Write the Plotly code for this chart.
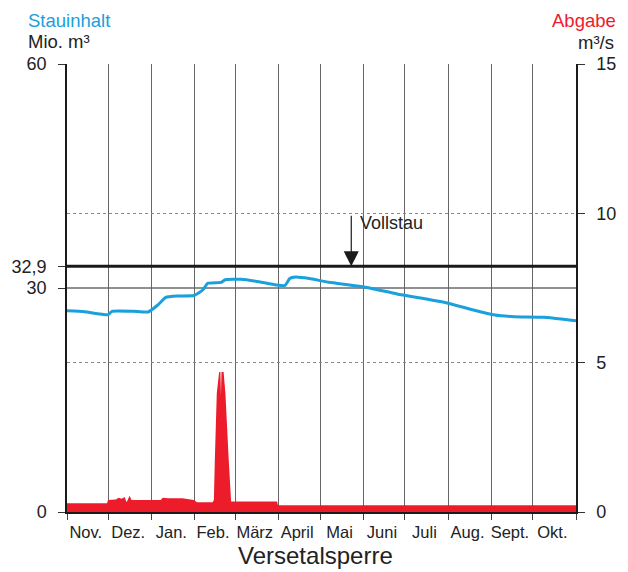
import plotly.graph_objects as go
import pandas as pd

# ---------------- data ----------------
BASE_DATE = "2019-11-01"  # hydrological year Nov..Oct (leap year Feb)
MONTH_LABELS = ["Nov.", "Dez.", "Jan.", "Feb.", "März", "April", "Mai", "Juni", "Juli", "Aug.", "Sept.", "Okt."]
MONTH_DAYS = [30, 31, 31, 29, 31, 30, 31, 30, 31, 31, 30, 31]

# Stauinhalt (Mio. m³), day offset from BASE_DATE
STAU_DAYS = [0, 12.6, 29.5, 32.3, 47.8, 58.3, 65.3, 71.0, 79.4, 91.3, 97.6, 101.2, 111.0, 113.8, 125.0,
             139.1, 151.0, 156.7, 160.2, 164.4, 174.2, 188.3, 212.9, 237.4, 272.6, 292.2, 307.7, 321.7, 342.8, 366]
STAU_VALUES = [26.96, 26.83, 26.42, 26.88, 26.88, 26.79, 27.72, 28.75, 28.93, 29.0, 29.73, 30.63, 30.76, 31.11, 31.16,
               30.80, 30.40, 30.34, 31.27, 31.47, 31.27, 30.76, 30.17, 29.20, 28.03, 27.05, 26.38, 26.16, 26.08, 25.62]

# Abgabe (m³/s)
ABG_DAYS = [0, 28.8, 29.5, 35.1, 37.2, 39.3, 41.4, 42.9, 45.0, 46.4, 67.4, 68.8, 72.4, 82.9, 91.3, 93.4,
            104.7, 105.6, 106.3, 107.7, 109.4, 110.3, 110.7, 111.1, 112.6, 113.9, 116.3, 117.5, 118.0,
            151.0, 151.7, 366]
ABG_VALUES = [0.29, 0.29, 0.40, 0.42, 0.48, 0.44, 0.50, 0.33, 0.54, 0.40, 0.40, 0.48, 0.46, 0.46, 0.40, 0.33,
              0.33, 0.40, 1.74, 3.98, 4.69, 4.69, 3.9, 4.69, 4.69, 3.98, 1.74, 0.40, 0.35,
              0.35, 0.23, 0.23]

VOLLSTAU = 32.9
VOLLSTAU_DAY = 204.4
LEFT_TICKS = [0, 30, 32.9, 60]
LEFT_TICKTEXT = ["0", "30", "32,9", "60"]
RIGHT_TICKS = [0, 5, 10, 15]

# ---------------- helpers ----------------
base = pd.Timestamp(BASE_DATE)
def to_date(days):
    return [base + pd.Timedelta(days=float(d)) for d in days]

starts = [0]
for d in MONTH_DAYS:
    starts.append(starts[-1] + d)
mids = [starts[i] + MONTH_DAYS[i] / 2 - 1.5 for i in range(len(MONTH_DAYS))]

BLUE = "#1aa0dc"
RED = "#ec1c2b"
FONT = "Liberation Sans, Arial, sans-serif"
TXT = "#222222"

fig = go.Figure()
fig.add_trace(go.Scatter(x=to_date(ABG_DAYS), y=ABG_VALUES, yaxis="y2", mode="lines",
                         line=dict(width=0, color=RED), fill="tozeroy", fillcolor=RED,
                         hoverinfo="skip", showlegend=False))
fig.add_trace(go.Scatter(x=to_date(STAU_DAYS), y=STAU_VALUES, mode="lines",
                         line=dict(width=3, color=BLUE, shape="spline", smoothing=0.4),
                         hoverinfo="skip", showlegend=False))

x_end = base + pd.Timedelta(days=starts[-1])

fig.add_shape(type="line", xref="paper", x0=0, x1=1, yref="y", y0=30, y1=30,
              line=dict(color="#222222", width=1), layer="below")
fig.add_shape(type="line", xref="paper", x0=0, x1=1, yref="y", y0=VOLLSTAU, y1=VOLLSTAU,
              line=dict(color="#1a1a1a", width=3))

annotations = [
    dict(text="Stauinhalt", xref="paper", yref="paper", x=-0.081, y=1.098, xanchor="left", yanchor="middle",
         showarrow=False, font=dict(size=18.5, color=BLUE, family=FONT)),
    dict(text="Mio. m³", xref="paper", yref="paper", x=-0.081, y=1.051, xanchor="left", yanchor="middle",
         showarrow=False, font=dict(size=18.5, color=TXT, family=FONT)),
    dict(text="Abgabe", xref="paper", yref="paper", x=1.083, y=1.098, xanchor="right", yanchor="middle",
         showarrow=False, font=dict(size=18.5, color=RED, family=FONT)),
    dict(text="m³/s", xref="paper", yref="paper", x=1.079, y=1.047, xanchor="right", yanchor="middle",
         showarrow=False, font=dict(size=18.5, color=TXT, family=FONT)),
    dict(text="Versetalsperre", xref="paper", yref="paper", x=0.4885, y=-0.098, xanchor="center", yanchor="middle",
         showarrow=False, font=dict(size=24, color=TXT, family=FONT)),
    dict(text="", x=base + pd.Timedelta(days=VOLLSTAU_DAY), y=VOLLSTAU, xref="x", yref="y",
         showarrow=True, ax=0, ay=-52, arrowhead=2, arrowsize=2.5, arrowwidth=1.2, arrowcolor="#1a1a1a",
         standoff=0),
    dict(text="Vollstau", x=base + pd.Timedelta(days=VOLLSTAU_DAY + 4.5), y=38.7, xref="x", yref="y",
         xanchor="left", yanchor="middle", showarrow=False, font=dict(size=18, color=TXT, family=FONT)),
]

fig.update_layout(
    width=628, height=572,
    margin=dict(l=62, r=45, t=64, b=60),
    paper_bgcolor="white", plot_bgcolor="white",
    font=dict(family=FONT, color=TXT),
    annotations=annotations,
    xaxis=dict(
        type="date", range=[base, x_end],
        tickvals=to_date(mids), ticktext=MONTH_LABELS, ticks="", showgrid=False,
        tickfont=dict(size=16.5, color=TXT), ticklabelstandoff=4,
        showline=True, linecolor="#1a1a1a", linewidth=1.5, zeroline=False,
        minor=dict(tick0=BASE_DATE, dtick="M1", ticks="outside", ticklen=6, tickcolor="#444444",
                   showgrid=True, gridcolor="#666666", gridwidth=1),
    ),
    yaxis=dict(
        range=[0, 60], tickvals=LEFT_TICKS, ticktext=LEFT_TICKTEXT, ticks="outside", ticklen=7,
        tickcolor="#333333", tickfont=dict(size=18, color=TXT), showgrid=False, zeroline=False,
        showline=True, linecolor="#1a1a1a", linewidth=1.5, ticklabelstandoff=8,
    ),
    yaxis2=dict(
        range=[0, 15], tickvals=RIGHT_TICKS, overlaying="y", side="right", ticks="outside", ticklen=7,
        tickcolor="#333333", tickfont=dict(size=18, color=TXT), showgrid=True, gridcolor="#888888",
        griddash="3px,3px", gridwidth=1, zeroline=False, showline=True, linecolor="#1a1a1a", linewidth=1.5,
        ticklabelstandoff=8,
    ),
)

fig.write_html("out.html")
